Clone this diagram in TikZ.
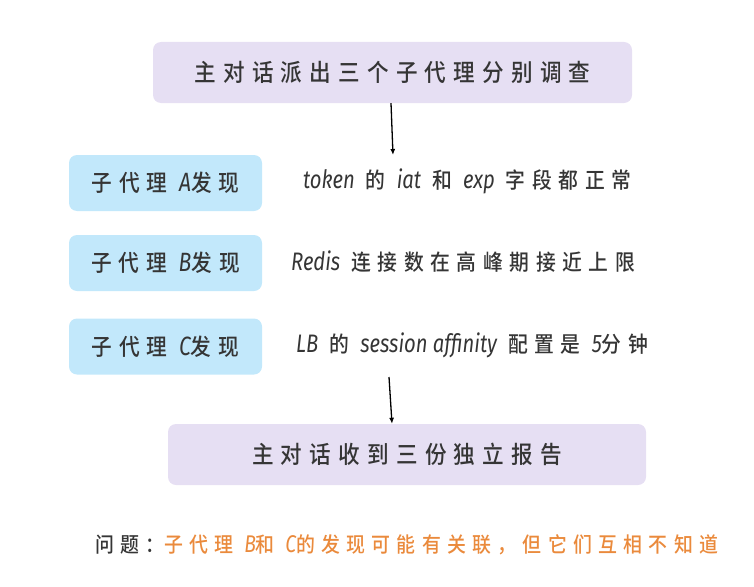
\documentclass[tikz,border=0pt]{standalone}
\usepackage{fontspec}
\usepackage{tikz}
\usetikzlibrary{arrows.meta}
\newfontfamily\cjk[LetterSpace=30,FakeStretch=0.9]{Noto Sans CJK SC Medium}
\newfontfamily\lat[FakeStretch=0.8,Scale=1.15]{Fira Sans}
\newcommand\latword[1]{{\lat\itshape #1}}
\definecolor{leadfill}{HTML}{E6DFF3}
\definecolor{agentfill}{HTML}{C2E8FB}
\definecolor{ink}{HTML}{353535}
\definecolor{warn}{HTML}{EA8A3C}

\begin{document}
\begin{tikzpicture}[x=1pt,y=-1pt,
            lead node/.style={rounded corners=8pt,fill=leadfill,minimum height=61pt,text=ink,font=\cjk\fontsize{24}{28}\selectfont},
            agent node/.style={rounded corners=8pt,fill=agentfill,minimum width=193pt,minimum height=56pt,text=ink,font=\cjk\fontsize{23}{27}\selectfont},
            find node/.style={anchor=west,inner sep=0pt,text=ink,font=\cjk\fontsize{22}{26}\selectfont},
            flow arrow/.style={-{Latex[length=6pt,width=5pt]},line width=1.3pt,black},
            ]
            \useasboundingbox (0,0) rectangle (754,586);

            \node[lead node, minimum width=479pt] (start) at (392.5,72.5) {主对话派出三个子代理分别调查};
            \coordinate (split) at (393,155);

            \node[agent node] (a) at (165.5,183) {子代理 \latword{A}发现};
            \node[agent node] (b) at (165.5,263) {子代理 \latword{B}发现};
            \node[agent node] (c) at (165.5,346.5) {子代理 \latword{C}发现};

            \node[find node] (fa) at (303,181) {\latword{token} 的 \latword{iat} 和 \latword{exp} 字段都正常};
            \node[find node] (fb) at (291,262) {\latword{Redis} 连接数在高峰期接近上限};
            \node[find node] (fc) at (296,345) {\latword{LB} 的 \latword{session affinity} 配置是 \latword{5}分钟};

            \coordinate (merge) at (389,377);
            \node[lead node, minimum width=478pt] (report) at (407,454.5) {主对话收到三份独立报告};

            \draw[flow arrow] (start.south -| 391,0) -- (split);
            \draw[flow arrow] (merge) -- (report.north -| 392,0);

            \node[find node, font=\cjk\fontsize{21}{25}\selectfont] (issue) at (95,545) {问题：\textcolor{warn}{子代理 \latword{B}和 \latword{C}的发现可能有关联，但它们互相不知道}};
        \end{tikzpicture}
\end{document}
